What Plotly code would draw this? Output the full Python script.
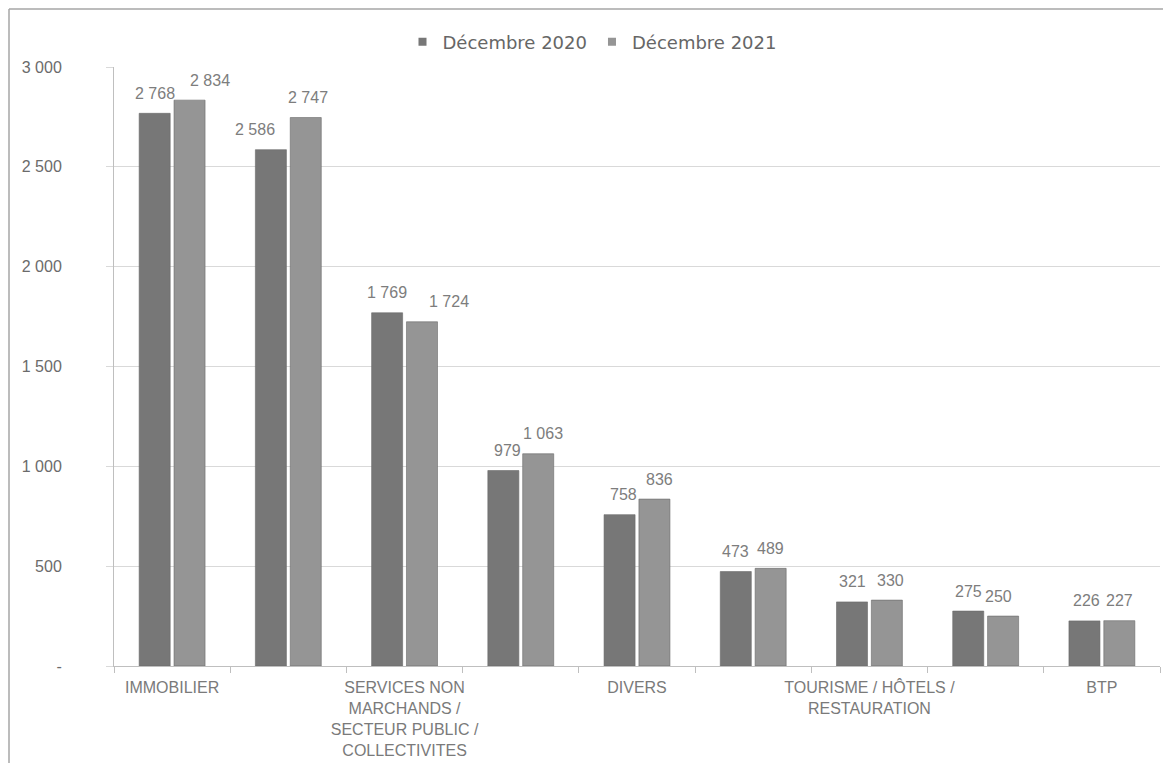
import plotly.graph_objects as go

categories = ["IMMOBILIER", "", "SERVICES NON<br>MARCHANDS /<br>SECTEUR PUBLIC /<br>COLLECTIVITES", "",
              "DIVERS", "", "TOURISME / HÔTELS /<br>RESTAURATION", "", "BTP"]
series_names = ["Décembre 2020", "Décembre 2021"]
dec_2020 = [2768, 2586, 1769, 979, 758, 473, 321, 275, 226]
dec_2021 = [2834, 2747, 1724, 1063, 836, 489, 330, 250, 227]
y_tickvals = [0, 500, 1000, 1500, 2000, 2500, 3000]
y_ticktext = ["-", "500", "1 000", "1 500", "2 000", "2 500", "3 000"]

# manual horizontal nudges (px) of a few value labels, as in the reference
label_nudge_2020 = [0, -16, 0, 4, 4, 0, 0, 0, 2]
label_nudge_2021 = [20, 2, 27, 5, 5, 0, 4, -5, 0]

x = list(range(len(categories)))
FONT = "Liberation Sans, Arial, sans-serif"
colors = ["#777777", "#959595"]

fig = go.Figure()
for name, vals, col in zip(series_names, [dec_2020, dec_2021], colors):
    fig.add_trace(go.Bar(
        x=x, y=vals, name=name, showlegend=False,
        marker=dict(color=col, line=dict(color="#6a6a6a", width=0.6)),
    ))
    # legend entries with small square markers
    fig.add_trace(go.Scatter(
        x=[None], y=[None], mode="markers", name=name,
        marker=dict(symbol="square", size=8, color=col),
    ))

# value labels above bars
offsets = [-0.15, 0.15]
for off, vals, nudges in zip(offsets, [dec_2020, dec_2021], [label_nudge_2020, label_nudge_2021]):
    for xi, v, dx in zip(x, vals, nudges):
        fig.add_annotation(
            x=xi + off, y=v, xref="x", yref="y",
            text=f"{v:,}".replace(",", " "), showarrow=False,
            yanchor="middle", yshift=20, xshift=dx,
            font=dict(family=FONT, size=16, color="#7d7d7d"),
        )

W, H = 1163, 763
ml, mr, mt, mb = 114, 3, 67, 97
pw = W - ml - mr
ph = H - mt - mb

def px_x(p):
    return (p - ml) / pw

def px_y(p):
    return (H - mb - p) / ph

fig.update_layout(
    width=W, height=H,
    margin=dict(l=ml, r=mr, t=mt, b=mb, autoexpand=False),
    paper_bgcolor="white", plot_bgcolor="white",
    separators=", ",
    barmode="group", bargap=0.4, bargroupgap=0.11,
    font=dict(family=FONT, color="#595959"),
    legend=dict(orientation="h", x=px_x(592), xanchor="center", y=px_y(42), yanchor="middle",
                font=dict(family="DejaVu Sans, sans-serif", size=18, color="#666666"),
                itemwidth=30, traceorder="normal"),
    showlegend=True,
    xaxis=dict(
        range=[-0.5, len(categories) - 0.5],
        tickmode="array", tickvals=x, ticktext=categories,
        tickangle=0, ticks="", showgrid=False,
        tickfont=dict(family=FONT, size=16, color="#7a7a7a"),
        ticklabelstandoff=7,
        showline=True, linecolor="#bfbfbf", linewidth=1,
        minor=dict(ticks="outside", tickvals=[i - 0.5 for i in range(len(categories) + 1)],
                   ticklen=6, tickcolor="#bfbfbf", showgrid=False),
        zeroline=False, fixedrange=True,
    ),
    yaxis=dict(
        range=[0, 3000], tickmode="array", tickvals=y_tickvals, ticktext=y_ticktext,
        showgrid=True, gridcolor="#d9d9d9", gridwidth=1,
        ticks="outside", ticklen=7, tickcolor="#d9d9d9",
        showline=True, linecolor="#bfbfbf", linewidth=1,
        tickfont=dict(family=FONT, size=16, color="#6b6b6b"),
        ticklabelstandoff=41, zeroline=False,
    ),
    shapes=[
        dict(type="line", xref="paper", yref="paper", x0=px_x(9), x1=px_x(1170), y0=px_y(9), y1=px_y(9),
             line=dict(color="#a6a6a6", width=1.5)),
        dict(type="line", xref="paper", yref="paper", x0=px_x(9), x1=px_x(9), y0=px_y(9), y1=px_y(770),
             line=dict(color="#a6a6a6", width=1.5)),
    ],
)

fig.write_html("out.html")
